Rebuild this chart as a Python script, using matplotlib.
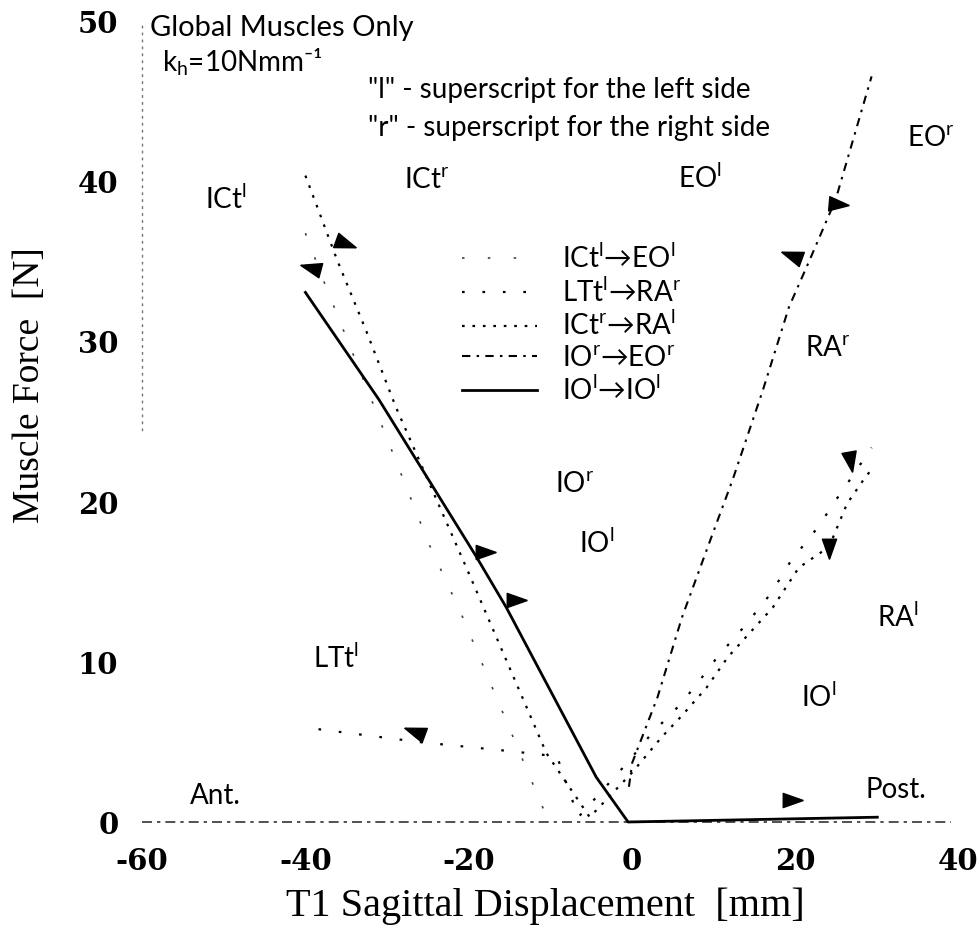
import numpy as np
import matplotlib.pyplot as plt
import matplotlib.transforms as mtransforms

plt.rcParams['font.family'] = ['Lato', 'DejaVu Sans']
plt.rcParams['mathtext.fontset'] = 'custom'
plt.rcParams['mathtext.rm'] = 'Lato'
plt.rcParams['mathtext.it'] = 'Lato:italic'
plt.rcParams['mathtext.bf'] = 'Lato:bold'
plt.rcParams['axes.unicode_minus'] = False

# data (displacement mm, force N)
ict_l_eo_l_x = [-40.0, -37.6, -30.5, -24.9, -21.0, -10.2]
ict_l_eo_l_y = [36.8, 33.6, 24.6, 17.4, 13.1, 0.0]

ltt_l_ra_r_x = [-38.4, -26.1, -14.4, -9.2, -6.6, -0.6, 2.5, 6.0, 9.1, 10.4, 13.7, 17.0, 19.4, 22.7, 25.3, 26.8, 29.3]
ltt_l_ra_r_y = [5.8, 5.0, 4.4, 4.1, 0.3, 3.7, 5.6, 7.4, 9.4, 10.3, 12.2, 14.3, 16.3, 18.4, 20.4, 21.5, 23.4]

ict_r_ra_l_x = [-40.0, -38.3, -36.1, -32.6, -28.9, -20.3, -10.5, -5.2, 0.0, 3.6, 6.0, 9.1, 11.7, 14.0, 17.2, 20.4, 24.1, 26.3, 28.6, 29.6]
ict_r_ra_l_y = [40.4, 38.1, 35.1, 30.75, 25.9, 15.9, 4.3, 0.3, 3.1, 5.3, 6.6, 8.4, 10.3, 11.6, 13.4, 15.9, 17.2, 19.9, 21.6, 22.2]

io_r_eo_r_x = [-0.4, 0.0, 3.1, 6.1, 9.4, 12.3, 16.0, 19.2, 21.7, 24.9, 29.3]
io_r_eo_r_y = [2.2, 3.7, 7.8, 12.8, 17.4, 21.4, 27.0, 32.2, 35.1, 38.9, 46.6]

io_l_io_l_x = [-40.0, -31.0, -19.1, -15.4, -4.4, -0.5, 30.0]
io_l_io_l_y = [33.1, 26.4, 16.6, 13.4, 2.8, 0.0, 0.3]

zero_x = [-60.0, 39.0]
zero_y = [0.0, 0.0]

# direction arrows on the curves (x, y, heading in degrees)
arrow_x = [-35.3, -39.2, -18.1, -14.4, -26.5, 25.1, 19.7, 26.6, 24.1, 19.4]
arrow_y = [36.2, 34.6, 16.9, 13.9, 5.6, 38.6, 35.4, 22.6, 17.2, 1.4]
arrow_dir = [-20, 165, 0, 0, 160, -5, 160, 280, 270, 0]

xticks = [-60, -40, -20, 0, 20, 40]
yticks = [0, 10, 20, 30, 40, 50]

fig = plt.figure(figsize=(9.8, 9.32), dpi=100)
ax = fig.add_axes([142 / 980, 110 / 932, 817 / 980, 800 / 932])
ax.set_xlim(-60, 40)
ax.set_ylim(0, 50)

ax.plot(zero_x, zero_y, color='0.2', lw=1.2, ls=(0, (6, 3, 2, 3)), clip_on=False)
ax.plot(ict_l_eo_l_x, ict_l_eo_l_y, color='0.25', lw=1.2, ls=(0, (1.5, 14)),
        clip_on=False, label='ICt$^{\\rm l}$→EO$^{\\rm l}$')
ax.plot(ltt_l_ra_r_x, ltt_l_ra_r_y, color='k', lw=1.6, ls=(0, (1.2, 8)),
        clip_on=False, label='LTt$^{\\rm l}$→RA$^{\\rm r}$')
ax.plot(ict_r_ra_l_x, ict_r_ra_l_y, color='k', lw=1.6, ls=(0, (1.2, 3.5)),
        clip_on=False, label='ICt$^{\\rm r}$→RA$^{\\rm l}$')
ax.plot(io_r_eo_r_x, io_r_eo_r_y, color='k', lw=1.5, ls=(0, (4, 3, 1.2, 3)),
        clip_on=False, label='IO$^{\\rm r}$→EO$^{\\rm r}$')
ax.plot(io_l_io_l_x, io_l_io_l_y, color='k', lw=2.0, ls='-',
        clip_on=False, label='IO$^{\\rm l}$→IO$^{\\rm l}$')

# arrowheads: narrow triangle rotated to the heading
tri = np.array([[1.0, 0.0], [-0.7, 0.6], [-0.7, -0.6], [1.0, 0.0]])
for x, y, d in zip(arrow_x, arrow_y, arrow_dir):
    a = np.deg2rad(d)
    rot = np.array([[np.cos(a), -np.sin(a)], [np.sin(a), np.cos(a)]])
    ax.plot(x, y, marker=tri @ rot.T, ms=17, color='k', ls='none', clip_on=False)

for s in ['top', 'right', 'bottom']:
    ax.spines[s].set_visible(False)
ax.spines['left'].set_bounds(24.5, 50)
ax.spines['left'].set_linestyle((0, (1, 4)))
ax.spines['left'].set_color('0.45')
ax.spines['left'].set_linewidth(1.0)

ax.set_xticks(xticks)
ax.set_yticks(yticks)
ax.tick_params(length=0)
ax.tick_params(axis='x', pad=18)
ax.tick_params(axis='y', pad=17)
for lab in ax.get_xticklabels() + ax.get_yticklabels():
    lab.set_family('DejaVu Serif')
    lab.set_fontweight('bold')
    lab.set_fontsize(21)
# last x label sits at the figure edge, nudge it inward slightly
last = ax.get_xticklabels()[-1]
last.set_transform(last.get_transform() + mtransforms.ScaledTranslation(-0.01, 0, fig.dpi_scale_trans))

fig.text(545 / 980, 1 - 906 / 932, 'T1 Sagittal Displacement  [mm]', family='Liberation Serif',
         fontsize=29, ha='center', va='center')
fig.text(30 / 980, 1 - 385 / 932, 'Muscle Force  [N]', family='Liberation Serif',
         fontsize=27, ha='center', va='center', rotation=90)

ax.text(-59.0, 49.6, 'Global Muscles Only', fontsize=21, ha='left', va='center')
ax.text(-57.5, 47.5, 'k$_{\\rm h}$=10Nmm⁻¹', fontsize=20, ha='left', va='center')
ax.text(-32.3, 45.75, '"l" - superscript for the left side', fontsize=20, ha='left', va='center')
ax.text(-32.3, 43.4, '"r" - superscript for the right side', fontsize=20, ha='left', va='center')

labels = [('ICt$^{\\rm l}$', -49.7, 38.9), ('ICt$^{\\rm r}$', -25.2, 40.1),
          ('EO$^{\\rm l}$', 8.3, 40.25), ('EO$^{\\rm r}$', 36.6, 42.75),
          ('RA$^{\\rm r}$', 23.9, 29.6), ('IO$^{\\rm r}$', -7.1, 21.1),
          ('IO$^{\\rm l}$', -4.3, 17.4), ('RA$^{\\rm l}$', 32.5, 12.8),
          ('IO$^{\\rm l}$', 22.8, 7.8), ('LTt$^{\\rm l}$', -36.2, 10.25),
          ('Ant.', -51.0, 1.6), ('Post.', 32.3, 2.0)]
for t, x, y in labels:
    ax.text(x, y, t, fontsize=20, ha='center', va='center')

fig.legend(loc='upper left', bbox_to_anchor=(462 / 980, 1 - 244 / 932), frameon=False,
           fontsize=20, handlelength=2.7, handletextpad=0.9, labelspacing=0.16,
           borderpad=0, borderaxespad=0)

fig.savefig('out.png', dpi=100)
